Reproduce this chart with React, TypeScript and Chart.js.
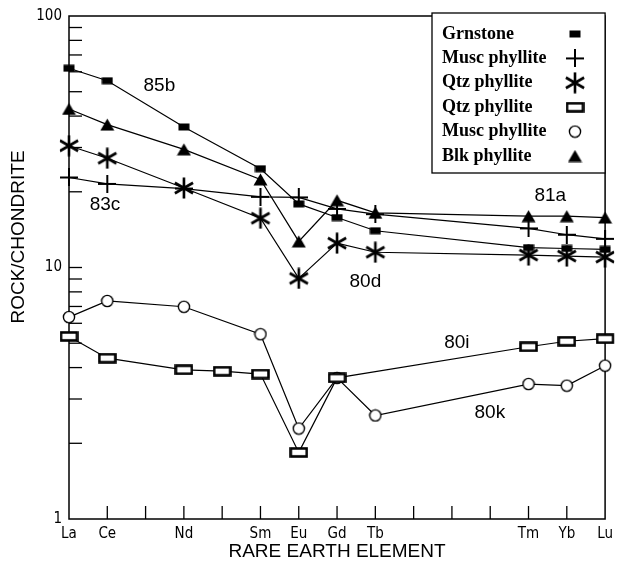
import React, { useEffect, useRef } from "react";
import { Chart, registerables } from "chart.js";

Chart.register(...registerables);

// ---------- data ----------
const elements = ["La", "Ce", "Pr", "Nd", "Pm", "Sm", "Eu", "Gd", "Tb", "Dy", "Ho", "Er", "Tm", "Yb", "Lu"];
const labeledElements = ["La", "Ce", "Nd", "Sm", "Eu", "Gd", "Tb", "Tm", "Yb", "Lu"];
const yTickLabels = [1, 10, 100];

const seriesNames = ["Grnstone", "Musc phyllite", "Qtz phyllite", "Qtz phyllite", "Musc phyllite", "Blk phyllite"];
const sampleIds = ["85b", "83c", "80d", "80i", "80k", "81a"];

const grnstone85b = [62.0, 55.3, null, 36.2, null, 24.7, 17.9, 15.8, 14.0, null, null, null, 12.0, 11.9, 11.8];
const muscPhyllite83c = [22.8, 21.5, null, 20.6, null, 19.1, 19.0, 17.1, 16.3, null, null, null, 14.3, 13.5, 13.0];
const qtzPhyllite80d = [30.5, 27.2, null, 20.7, null, 15.7, 9.05, 12.5, 11.5, null, null, null, 11.2, 11.1, 11.0];
const qtzPhyllite80i = [5.32, 4.36, null, 3.92, 3.87, 3.77, 1.84, 3.64, null, null, null, null, 4.84, 5.09, 5.21];
const muscPhyllite80k = [6.35, 7.36, null, 6.98, null, 5.43, 2.29, 3.64, 2.58, null, null, null, 3.44, 3.39, 4.07];
const blkPhyllite81a = [42.7, 37.0, null, 29.5, null, 22.4, 12.7, 18.5, 16.5, null, null, null, 16.0, 16.0, 15.8];

// sample label anchors (element index, value)
const labelIndex = [2.36, 0.94, 7.74, 10.13, 10.99, 12.57];
const labelValue = [53, 17.7, 8.75, 5.01, 2.65, 19.2];

const seriesValues = [grnstone85b, muscPhyllite83c, qtzPhyllite80d, qtzPhyllite80i, muscPhyllite80k, blkPhyllite81a];
const seriesMarkers = ["filledRect", "plus", "asterisk", "openRect", "circle", "triangle"];

// ---------- styling ----------
const tickFont = "'DejaVu Sans Condensed', 'Liberation Sans Narrow', 'Liberation Sans', sans-serif";
const titleFont = "'Liberation Sans', Arial, sans-serif";
const legendFont = "'Liberation Serif', 'Times New Roman', serif";

function makeMarker(kind: string): HTMLCanvasElement {
  const c = document.createElement("canvas");
  const ctx = c.getContext("2d")!;
  const setSize = (w: number, h: number) => {
    c.width = w;
    c.height = h;
  };
  switch (kind) {
    case "filledRect":
      setSize(12, 8);
      ctx.fillStyle = "#000";
      ctx.fillRect(0.5, 0.5, 11, 7);
      break;
    case "plus":
      setSize(18, 18);
      ctx.strokeStyle = "#000";
      ctx.lineWidth = 2;
      ctx.beginPath();
      ctx.moveTo(0, 9);
      ctx.lineTo(18, 9);
      ctx.moveTo(9, 0);
      ctx.lineTo(9, 18);
      ctx.stroke();
      break;
    case "asterisk": {
      setSize(22, 22);
      ctx.strokeStyle = "#000";
      ctx.lineWidth = 2.6;
      ctx.lineCap = "butt";
      ctx.beginPath();
      const r = 10.5;
      for (const ang of [90, 30, 150]) {
        const a = (ang * Math.PI) / 180;
        ctx.moveTo(11 + r * Math.cos(a), 11 - r * Math.sin(a));
        ctx.lineTo(11 - r * Math.cos(a), 11 + r * Math.sin(a));
      }
      ctx.stroke();
      break;
    }
    case "openRect":
      setSize(19, 11);
      ctx.fillStyle = "#fff";
      ctx.fillRect(1, 1, 17, 9);
      ctx.strokeStyle = "#000";
      ctx.lineWidth = 2.6;
      ctx.strokeRect(1.5, 1.5, 16, 8);
      break;
    case "circle":
      setSize(14, 14);
      ctx.beginPath();
      ctx.arc(7, 7, 5.6, 0, Math.PI * 2);
      ctx.fillStyle = "#fff";
      ctx.fill();
      ctx.strokeStyle = "#000";
      ctx.lineWidth = 1.4;
      ctx.stroke();
      break;
    case "triangle":
      setSize(15, 13);
      ctx.fillStyle = "#000";
      ctx.beginPath();
      ctx.moveTo(7.5, 0.5);
      ctx.lineTo(14.5, 12.5);
      ctx.lineTo(0.5, 12.5);
      ctx.closePath();
      ctx.fill();
      break;
  }
  return c;
}

export default function App() {
  const ref = useRef<HTMLCanvasElement | null>(null);

  useEffect(() => {
    const canvas = ref.current;
    if (!canvas) return;
    const markers = seriesMarkers.map(makeMarker);

    const line = (ctx: CanvasRenderingContext2D, x1: number, y1: number, x2: number, y2: number) => {
      ctx.beginPath();
      ctx.moveTo(x1, y1);
      ctx.lineTo(x2, y2);
      ctx.stroke();
    };

    const framePlugin = {
      id: "frame",
      beforeDatasetsDraw(chart: any) {
        const { ctx, chartArea: a, scales } = chart;
        ctx.save();
        ctx.strokeStyle = "#000";
        ctx.lineWidth = 1.5;
        ctx.strokeRect(a.left, a.top, a.right - a.left, a.bottom - a.top);
        ctx.lineWidth = 1.3;
        for (let d = 1; d < 100; d *= 10) {
          for (let m = 1; m < 10; m++) {
            const v = d * m;
            if (v === 1) continue;
            const y = scales.y.getPixelForValue(v);
            line(ctx, a.left, y, a.left + 13, y);
          }
        }
        elements.forEach((_, i) => {
          if (i === 0 || i === elements.length - 1) return;
          const x = scales.x.getPixelForValue(i);
          line(ctx, x, a.bottom, x, a.bottom - 13);
        });
        ctx.restore();
      },
      afterDraw(chart: any) {
        const { ctx, chartArea: a, scales } = chart;
        ctx.save();
        // legend box
        const lx = 432;
        const ly = 13;
        ctx.strokeStyle = "#000";
        ctx.lineWidth = 1.3;
        ctx.fillStyle = "#fff";
        ctx.fillRect(lx, ly, a.right - lx, 160);
        ctx.strokeRect(lx, ly, a.right - lx, 160);
        ctx.fillStyle = "#000";
        ctx.font = `bold 18px ${legendFont}`;
        ctx.textBaseline = "middle";
        ctx.textAlign = "left";
        seriesNames.forEach((name, i) => {
          const y = ly + 21 + i * 24.4;
          ctx.fillText(name, lx + 10, y);
          const m = markers[i];
          ctx.drawImage(m, 575 - m.width / 2, y - m.height / 2);
        });
        // sample id labels
        ctx.font = `19px ${titleFont}`;
        ctx.textAlign = "center";
        sampleIds.forEach((id, i) => {
          const x = scales.x.getPixelForValue(labelIndex[i]);
          const y = scales.y.getPixelForValue(labelValue[i]);
          ctx.fillText(id, x, y);
        });
        // axis titles
        ctx.font = `19px ${titleFont}`;
        ctx.textBaseline = "middle";
        ctx.fillText("RARE EARTH ELEMENT", (a.left + a.right) / 2, 552);
        ctx.save();
        ctx.translate(19, 237);
        ctx.rotate(-Math.PI / 2);
        ctx.fillText("ROCK/CHONDRITE", 0, 0);
        ctx.restore();
        ctx.restore();
      },
    };

    const chart = new Chart(canvas, {
      type: "line",
      data: {
        labels: elements,
        datasets: seriesValues.map((vals, i) => ({
          label: `${seriesNames[i]} ${sampleIds[i]}`,
          data: vals,
          borderColor: "#000",
          borderWidth: 1.2,
          pointStyle: markers[i] as any,
          pointRadius: 8,
          pointHoverRadius: 8,
          spanGaps: true,
          tension: 0,
          fill: false,
        })),
      },
      options: {
        responsive: false,
        animation: false,
        layout: { padding: { top: 15, right: 11, left: 0, bottom: 0 } },
        plugins: { legend: { display: false }, tooltip: { enabled: false } },
        scales: {
          x: {
            type: "category",
            offset: false,
            grid: { display: false, drawTicks: false },
            border: { display: false },
            ticks: {
              autoSkip: false,
              maxRotation: 0,
              padding: 6,
              color: "#000",
              font: { family: tickFont, size: 15 },
              callback: (_v: any, i: number) => (labeledElements.includes(elements[i]) ? elements[i] : ""),
            },
            afterFit: (s: any) => {
              s.height = 44;
            },
          },
          y: {
            type: "logarithmic",
            min: 1,
            max: 100,
            grid: { display: false, drawTicks: false },
            border: { display: false },
            ticks: {
              autoSkip: false,
              padding: 7,
              color: "#000",
              font: { family: tickFont, size: 15 },
              callback: (v: any) => (yTickLabels.includes(Number(v)) ? String(v) : ""),
            },
            afterFit: (s: any) => {
              s.width = 69;
            },
          },
        },
      },
      plugins: [framePlugin],
    });
    return () => chart.destroy();
  }, []);

  return (
    <div style={{ position: "absolute", left: 0, top: 0, width: 619, height: 563, background: "#fff" }}>
      <canvas ref={ref} width={619} height={563} style={{ display: "block" }} />
    </div>
  );
}
